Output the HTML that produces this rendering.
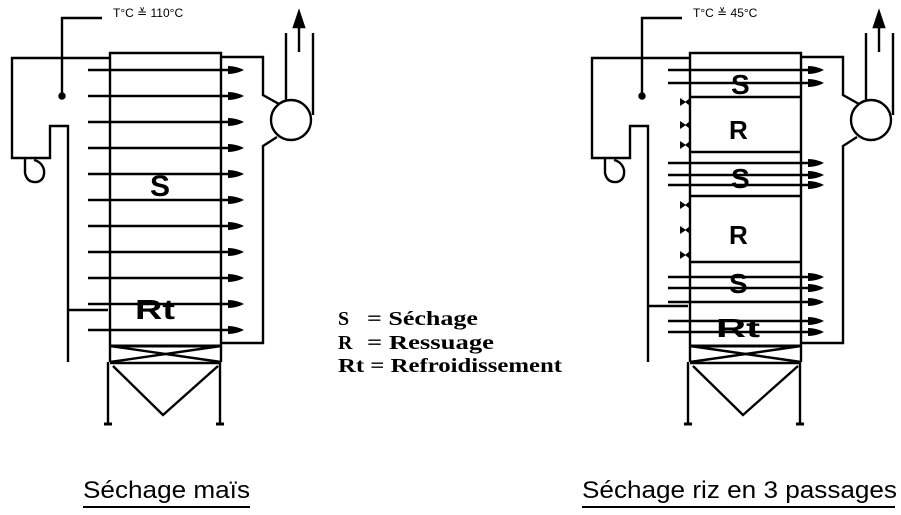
<!DOCTYPE html>
<html><head><meta charset="utf-8"><style>
html,body{margin:0;padding:0;background:#fff;}
svg{display:block}
</style></head><body>
<svg width="901" height="515" viewBox="0 0 901 515" xmlns="http://www.w3.org/2000/svg">
<defs>
<g id="frame" fill="none" stroke="#000" stroke-width="2.4">
  <polyline points="110,362 110,53 221,53 221,362"/>
  <polyline points="110,58 12,58 12,158 50,158 50,126 68,126 68,362"/>
  <polyline points="102,18 62,18 62,96"/>
  <circle cx="62" cy="96" r="2.5" fill="#000"/>
  <path d="M25,158 L25,173 Q27,183 37,182 Q45,180 44,170 Q42,162 34,160"/>
  <polyline points="221,57 263,57 263,95 279,104"/>
  <polyline points="277,137 263,146 263,343 221,343"/>
  <circle cx="291" cy="120" r="20"/>
  <line x1="286" y1="33" x2="286" y2="100"/>
  <line x1="313" y1="33" x2="313" y2="115"/>
  <line x1="299" y1="52" x2="299" y2="24"/>
  <polygon points="299,12 294,27 304,27" fill="#000"/>
  <line x1="110" y1="346" x2="221" y2="346" stroke-width="3"/>
  <line x1="110" y1="346" x2="221" y2="362"/>
  <line x1="110" y1="362" x2="221" y2="346"/>
  <line x1="110" y1="363" x2="221" y2="363"/>
  <polyline points="113,366 163,415 218,366"/>
  <line x1="108" y1="362" x2="108" y2="425"/>
  <line x1="220" y1="362" x2="220" y2="425"/>
  <line x1="104" y1="424" x2="112" y2="424" stroke-width="3"/>
  <line x1="216" y1="424" x2="224" y2="424" stroke-width="3"/>
</g>
<g id="arr">
  <line x1="0" y1="0" x2="150" y2="0" stroke="#000" stroke-width="2.4"/>
  <path d="M140,-4 Q148,-4 156,0 Q148,4 140,4 Z" fill="#000"/>
</g>
</defs>

<use href="#frame"/>
<text x="113" y="17" font-family="Liberation Sans, sans-serif" font-size="12">T°C ≚ 110°C</text>
<line x1="68" y1="310" x2="108" y2="310" stroke="#000" stroke-width="2.4"/>
<g>
<use href="#arr" x="88" y="70"/><use href="#arr" x="88" y="96"/><use href="#arr" x="88" y="122"/>
<use href="#arr" x="88" y="148"/><use href="#arr" x="88" y="174"/><use href="#arr" x="88" y="200"/>
<use href="#arr" x="88" y="226"/><use href="#arr" x="88" y="252"/><use href="#arr" x="88" y="278"/>
<use href="#arr" x="88" y="304"/><use href="#arr" x="88" y="330"/>
</g>
<text x="150" y="196" font-family="Liberation Sans, sans-serif" font-size="30" font-weight="bold">S</text>
<text x="135" y="319" font-family="Liberation Sans, sans-serif" font-size="28" font-weight="bold" textLength="40" lengthAdjust="spacingAndGlyphs">Rt</text>

<g transform="translate(580,0)">
<use href="#frame"/>
<text x="113" y="17" font-family="Liberation Sans, sans-serif" font-size="12">T°C ≚ 45°C</text>
<line x1="68" y1="306" x2="108" y2="306" stroke="#000" stroke-width="2.4"/>
<g stroke="#000" stroke-width="2.4">
<line x1="110" y1="97" x2="221" y2="97"/>
<line x1="110" y1="152" x2="221" y2="152"/>
<line x1="110" y1="196" x2="221" y2="196"/>
<line x1="110" y1="262" x2="221" y2="262"/>
</g>
<g fill="#000">
<path d="M100,98 l6,4 -6,4 z"/><path d="M100,121 l6,4 -6,4 z"/><path d="M100,141 l6,4 -6,4 z"/>
<path d="M100,201 l6,4 -6,4 z"/><path d="M100,226 l6,4 -6,4 z"/><path d="M100,251 l6,4 -6,4 z"/>
<path d="M110,98 l-5,4 5,4 z"/><path d="M110,121 l-5,4 5,4 z"/><path d="M110,141 l-5,4 5,4 z"/>
<path d="M110,201 l-5,4 5,4 z"/><path d="M110,226 l-5,4 5,4 z"/><path d="M110,251 l-5,4 5,4 z"/>
</g>
<use href="#arr" x="88" y="70"/><use href="#arr" x="88" y="83"/>
<use href="#arr" x="88" y="163"/><use href="#arr" x="88" y="175"/><use href="#arr" x="88" y="185"/>
<use href="#arr" x="88" y="277"/><use href="#arr" x="88" y="288"/><use href="#arr" x="88" y="302"/>
<use href="#arr" x="88" y="321"/><use href="#arr" x="88" y="332"/>
<g font-family="Liberation Sans, sans-serif" font-weight="bold">
<text x="151" y="94" font-size="28">S</text>
<text x="149" y="139" font-size="26">R</text>
<text x="151" y="188" font-size="28">S</text>
<text x="149" y="244" font-size="26">R</text>
<text x="149" y="293" font-size="28">S</text>
<text x="136" y="337" font-size="26" textLength="44" lengthAdjust="spacingAndGlyphs">Rt</text>
</g>
</g>

<g font-family="Liberation Serif, serif" font-size="20" font-weight="bold">
<text x="338" y="325">S</text><text x="367" y="325" textLength="111" lengthAdjust="spacingAndGlyphs">= Séchage</text>
<text x="338" y="349">R</text><text x="367" y="349" textLength="127" lengthAdjust="spacingAndGlyphs">= Ressuage</text>
<text x="338" y="372" textLength="224" lengthAdjust="spacingAndGlyphs">Rt = Refroidissement</text>
</g>

<g font-family="Liberation Sans, sans-serif" font-size="24">
<text x="83" y="498" textLength="167" lengthAdjust="spacingAndGlyphs">Séchage maïs</text>
<text x="582" y="498" textLength="315" lengthAdjust="spacingAndGlyphs">Séchage riz en 3 passages</text>
</g>
<line x1="83" y1="507" x2="250" y2="507" stroke="#000" stroke-width="2"/>
<line x1="582" y1="507" x2="895" y2="507" stroke="#000" stroke-width="2"/>
</svg>
</body></html>
